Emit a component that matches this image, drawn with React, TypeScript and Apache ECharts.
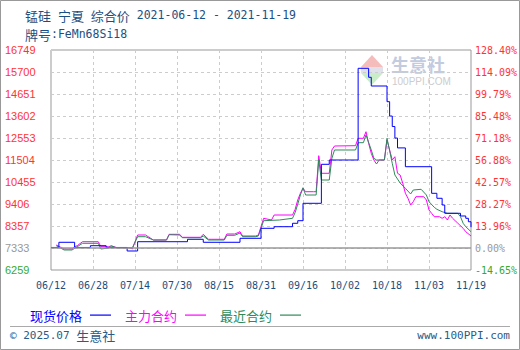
import React, { useEffect, useRef } from 'react';
import * as echarts from 'echarts';

// ---- data ----
const xLabels = ['06/12', '06/28', '07/14', '07/30', '08/15', '08/31', '09/16', '10/02', '10/18', '11/03', '11/19'];
const xStep = 16;
const leftLabels = ['6259', '7333', '8357', '9406', '10455', '11504', '12553', '13602', '14651', '15700', '16749'];
const rightLabels = ['-14.65%', '0.00%', '13.96%', '28.27%', '42.57%', '56.88%', '71.18%', '85.48%', '99.79%', '114.09%', '128.40%'];
const yBase = 6259;
const yStep = 1049;
const baseIndex = 1;

const titleMain = ['锰硅', '宁夏', '综合价'];
const titleDates = '2021-06-12 - 2021-11-19';
const gradeLabel = '牌号';
const gradeValue = ':FeMn68Si18';
const footerDate = '© 2025.07 ';
const footerName = '生意社';
const footerSite = 'www.100PPI.com';

const seriesNames = ['现货价格', '主力合约', '最近合约'];
const seriesColors = ['#0000ff', '#ff00ff', '#2e8b57'];

// day offsets from 2021-06-12
const spotDays = [0, 3, 9, 15, 21, 29, 33, 52, 58, 72, 80, 85, 92, 94, 96, 103, 106, 117, 121, 122, 128, 129, 130, 131, 132, 135, 145, 147, 149, 150, 156, 158, 159, 160];
const spotPrices = [7333, 7580, 7333, 7418, 7333, 7165, 7608, 7723, 7580, 7770, 8247, 8323, 8486, 8610, 9439, 11299, 11504, 15876, 15447, 15032, 14284, 13600, 13100, 12550, 12080, 11184, 9916, 9678, 9358, 8963, 8834, 8724, 8560, 8300];

const mainDays = [2, 5, 8, 9, 10, 12, 18, 19, 22, 23, 25, 30, 31, 32, 33, 36, 39, 44, 45, 49, 50, 57, 58, 60, 61, 66, 67, 70, 72, 73, 78, 79, 81, 84, 85, 92, 93, 94, 95, 96, 97, 100, 101, 102, 103, 106, 107, 108, 116, 117, 119, 120, 121, 122, 123, 124, 125, 127, 128, 130, 131, 132, 133, 134, 135, 136, 137, 138, 139, 142, 143, 144, 145, 146, 148, 149, 150, 151, 152, 153, 155, 157, 158, 160];
const mainPrices = [7451, 7260, 7260, 7370, 7418, 7608, 7608, 7370, 7370, 7418, 7322, 7322, 7260, 7600, 7928, 7928, 7689, 7689, 7961, 7961, 7818, 7818, 7961, 7723, 7723, 7723, 7975, 7975, 8085, 7880, 7880, 7928, 8724, 8643, 8881, 8881, 9150, 9600, 9916, 10154, 9992, 9992, 9992, 11709, 10870, 10870, 11981, 12171, 12186, 12538, 12538, 12853, 12300, 11823, 11504, 11313, 11504, 11504, 12457, 11504, 11661, 10870, 10789, 10393, 9916, 9678, 9358, 9516, 9754, 9754, 9597, 9120, 8962, 8800, 8800, 8724, 8800, 8643, 8881, 8724, 8486, 8247, 8085, 7880];

const nearDays = [2, 5, 8, 10, 12, 18, 19, 22, 23, 25, 31, 33, 36, 39, 44, 45, 49, 50, 57, 58, 60, 66, 67, 70, 72, 73, 78, 79, 81, 87, 92, 93, 94, 95, 96, 97, 101, 102, 103, 106, 107, 108, 116, 117, 119, 120, 122, 123, 124, 127, 128, 130, 131, 133, 135, 137, 138, 141, 143, 144, 146, 147, 149, 151, 155, 156, 157, 158, 160];
const nearPrices = [7418, 7213, 7213, 7370, 7532, 7532, 7260, 7308, 7389, 7322, 7322, 7847, 7847, 7689, 7689, 7942, 7928, 7799, 7799, 7880, 7689, 7689, 7914, 7914, 8023, 7847, 7847, 7880, 8610, 8643, 8724, 9000, 9400, 9835, 10183, 9835, 9835, 11504, 10550, 10550, 11585, 11981, 11981, 12329, 12329, 12696, 11981, 11585, 11504, 11504, 12538, 11346, 10789, 10407, 10154, 9883, 10073, 10107, 9835, 9516, 9249, 9153, 9039, 8962, 8962, 8800, 8486, 8323, 8085];

const toPairs = (days: number[], prices: number[]) => days.map((d, i) => [d, prices[i] - yBase]);

const labelColor = (idx: number) => (idx < baseIndex ? '#33aa33' : idx === baseIndex ? '#999999' : '#ff3333');

// thin horizontal bar centred in a 21x14 box
const legendLineIcon = 'path://M0,0M0,6.5H21V7.7H0ZM21,14';

export default function App() {
  const ref = useRef<HTMLDivElement>(null);

  useEffect(() => {
    document.body.style.margin = '0';
    const chart = echarts.init(ref.current!, null, { renderer: 'svg' });
    const titleColor = '#1b4f82';
    const footColor = '#2b5b86';
    const cjk = "'Noto Sans CJK SC', sans-serif";
    const mono = "'DejaVu Sans Mono', monospace";
    const yMax = yStep * (leftLabels.length - 1);
    const xMax = xStep * (xLabels.length - 1);

    const titleText =
      titleMain.map((t) => `{c|${t}}`).join('{m| }') + `{m| ${titleDates}}`;

    const option: any = {
      animation: false,
      grid: {
        left: 51,
        right: 49,
        top: 50,
        bottom: 80,
        show: true,
        borderColor: '#999',
        borderWidth: 1,
        containLabel: false,
        outerBoundsMode: 'none',
      },
      legend: {
        left: 25,
        top: 303,
        align: 'right',
        icon: legendLineIcon,
        itemWidth: 21,
        itemHeight: 14,
        itemGap: 14,
        selectedMode: false,
        textStyle: { fontSize: 13, fontFamily: cjk, padding: [0, 3, 0, 0] },
        data: seriesNames.map((n, i) => ({
          name: n,
          icon: legendLineIcon,
          itemStyle: { color: seriesColors[i], borderWidth: 0 },
          textStyle: { color: seriesColors[i] },
        })),
      },
      xAxis: {
        type: 'value',
        min: 0,
        max: xMax,
        interval: xStep,
        axisLine: { show: false },
        axisTick: { show: false },
        splitLine: { show: true, lineStyle: { color: '#cccccc', type: [3, 3], width: 1 } },
        axisLabel: {
          formatter: (v: number) => xLabels[Math.round(v / xStep)] ?? '',
          color: titleColor,
          fontFamily: mono,
          fontSize: 10,
          margin: 10,
        },
      },
      yAxis: [
        {
          type: 'value',
          position: 'left',
          min: 0,
          max: yMax,
          interval: yStep,
          axisLine: { show: false },
          axisTick: { show: false },
          splitLine: { show: true, lineStyle: { color: '#cccccc', type: [3, 3], width: 1 } },
          axisLabel: {
            formatter: (v: number) => leftLabels[Math.round(v / yStep)] ?? '',
            color: (v: number) => labelColor(Math.round(v / yStep)),
            fontFamily: "'Liberation Sans', sans-serif",
            fontSize: 11,
            align: 'left',
            margin: 46,
          },
        },
        {
          type: 'value',
          position: 'right',
          min: 0,
          max: yMax,
          interval: yStep,
          axisLine: { show: false },
          axisTick: { show: false },
          splitLine: { show: false },
          axisLabel: {
            formatter: (v: number) => rightLabels[Math.round(v / yStep)] ?? '',
            color: (v: number) => labelColor(Math.round(v / yStep)),
            fontFamily: mono,
            fontSize: 10,
            margin: 4,
          },
        },
      ],
      series: [
        {
          name: seriesNames[0],
          type: 'line',
          step: 'end',
          data: toPairs(spotDays, spotPrices),
          symbol: 'none',
          z: 4,
          lineStyle: { width: 1, color: seriesColors[0] },
          itemStyle: { color: seriesColors[0] },
          markLine: {
            silent: true,
            symbol: 'none',
            label: { show: false },
            lineStyle: { color: '#999999', width: 1.5, type: 'solid' },
            data: [{ yAxis: yStep * baseIndex }],
          },
        },
        {
          name: seriesNames[1],
          type: 'line',
          data: toPairs(mainDays, mainPrices),
          symbol: 'none',
          z: 3,
          lineStyle: { width: 1, color: seriesColors[1] },
          itemStyle: { color: seriesColors[1] },
        },
        {
          name: seriesNames[2],
          type: 'line',
          data: toPairs(nearDays, nearPrices),
          symbol: 'none',
          z: 3,
          lineStyle: { width: 1, color: seriesColors[2] },
          itemStyle: { color: seriesColors[2] },
        },
      ],
      graphic: {
        elements: [
          {
            type: 'rect',
            shape: { x: 0.5, y: 0.5, width: 519, height: 349 },
            style: { fill: 'none', stroke: '#999999', lineWidth: 1 },
            silent: true,
          },
          // watermark
          {
            type: 'polygon',
            shape: { points: [[361, 67], [372, 55], [383, 67]] },
            style: { fill: '#f5bcbc' },
            silent: true,
          },
          {
            type: 'rect',
            shape: { x: 361, y: 67, width: 22, height: 6 },
            style: { fill: '#dfe2ea' },
            silent: true,
          },
          {
            type: 'polygon',
            shape: { points: [[361, 73], [383, 73], [372, 85]] },
            style: { fill: '#c9edc9' },
            silent: true,
          },
          {
            type: 'text',
            x: 391,
            y: 64,
            style: {
              text: '生意社',
              fill: '#c3cbdf',
              fontSize: 18,
              fontWeight: 'bold',
              fontFamily: cjk,
              verticalAlign: 'middle',
              lineHeight: 17,
            },
            silent: true,
          },
          {
            type: 'text',
            x: 392,
            y: 81,
            style: {
              text: '100PPI.COM',
              fill: '#cccccc',
              fontSize: 10,
              fontFamily: "'Liberation Sans', sans-serif",
              verticalAlign: 'middle',
              lineHeight: 10,
            },
            silent: true,
          },
          // titles
          {
            type: 'text',
            x: 25,
            y: 15,
            style: {
              text: titleText,
              verticalAlign: 'middle',
              rich: {
                c: { fontSize: 13, fontFamily: cjk, fill: titleColor },
                m: { fontSize: 11.5, fontFamily: mono, fill: titleColor },
              },
            },
          },
          {
            type: 'text',
            x: 25,
            y: 34,
            style: {
              text: `{c|${gradeLabel}}{m|${gradeValue}}`,
              verticalAlign: 'middle',
              rich: {
                c: { fontSize: 13, fontFamily: cjk, fill: titleColor },
                m: { fontSize: 11.5, fontFamily: mono, fill: titleColor },
              },
            },
          },
          // footer
          {
            type: 'line',
            shape: { x1: 10, y1: 326.5, x2: 510, y2: 326.5 },
            style: { stroke: '#aaaaaa', lineWidth: 1 },
            silent: true,
          },
          {
            type: 'text',
            x: 10,
            y: 335,
            style: {
              text: `{m|${footerDate}}{c|${footerName}}`,
              verticalAlign: 'middle',
              rich: {
                c: { fontSize: 13, fontFamily: cjk, fill: footColor },
                m: { fontSize: 11, fontFamily: mono, fill: footColor },
              },
            },
          },
          {
            type: 'text',
            x: 510,
            y: 335,
            style: {
              text: footerSite,
              fill: footColor,
              fontSize: 11,
              fontFamily: mono,
              align: 'right',
              verticalAlign: 'middle',
            },
          },
        ],
      },
    };

    chart.setOption(option);
    return () => chart.dispose();
  }, []);

  return <div ref={ref} style={{ width: 520, height: 350 }} />;
}
